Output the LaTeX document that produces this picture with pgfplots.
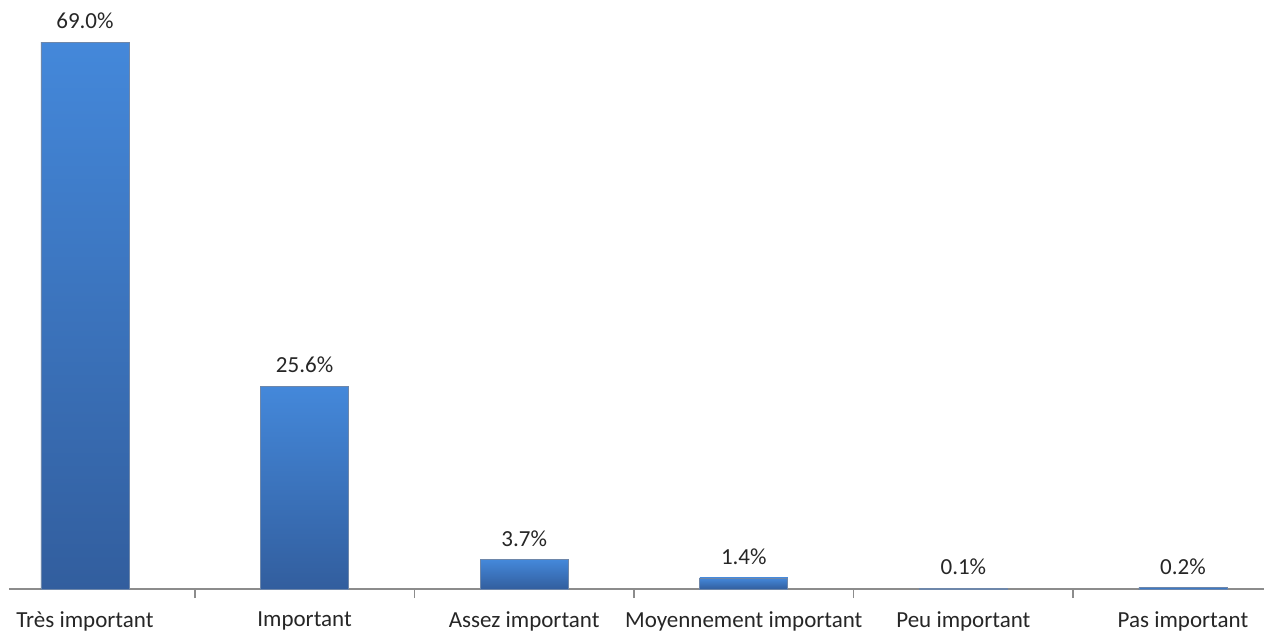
\documentclass[border=0pt]{standalone}
\usepackage{pgfplots}
\pgfplotsset{compat=1.18}
\usepackage{fontspec}
\setmainfont{Carlito}
\definecolor{bartop}{RGB}{68,136,218}
\definecolor{barbot}{RGB}{50,94,158}
\definecolor{baredge}{RGB}{110,135,170}
\definecolor{axisgray}{RGB}{140,140,140}
\pgfplotsset{mybar/.style={top color=bartop, bottom color=barbot, draw=baredge, line width=0.4pt}}
\begin{document}
\begin{tikzpicture}
\begin{axis}[
  at={(0,0)}, anchor=south west,
  width=627.5pt, height=294.5pt, scale only axis,
  ymin=0, ymax=74.3,
  xmin=-0.346, xmax=5.369,
  axis y line=none,
  axis x line*=bottom,
  x axis line style={draw=axisgray, line width=0.8pt, -},
  xtick={0,1,2,3,4,5},
  xticklabels={Très important, Important, Assez important, Moyennement important, Peu important, Pas important},
  major tick length=0pt,
  extra x ticks={0.5,1.5,2.5,3.5,4.5},
  extra x tick labels={},
  extra x tick style={major tick length=4.5pt, tick style={draw=axisgray, line width=0.8pt}, tick align=outside},
  xticklabel style={font=\fontsize{11.5pt}{13pt}\selectfont, text=black!85, yshift=-8pt},
  /pgf/number format/assume math mode=true,
  ybar, bar width=44pt, bar shift=0pt,
  nodes near coords={\pgfmathprintnumber[fixed, fixed zerofill, precision=1, assume math mode=true]{\pgfplotspointmeta}\%},
  every node near coord/.append style={anchor=center, yshift=10.5pt, font=\fontsize{11.5pt}{13pt}\selectfont, text=black!85},
  clip=false,
]
\addplot[mybar] coordinates {(0,69.0)};
\addplot[mybar] coordinates {(1,25.6)};
\addplot[mybar] coordinates {(2,3.7)};
\addplot[mybar] coordinates {(3,1.4)};
\addplot[mybar] coordinates {(4,0.1)};
\addplot[mybar] coordinates {(5,0.2)};
\end{axis}
\pgfresetboundingbox
\path (-4.5pt,-21.5pt) rectangle (627.5pt,294.5pt);
\end{tikzpicture}
\end{document}
